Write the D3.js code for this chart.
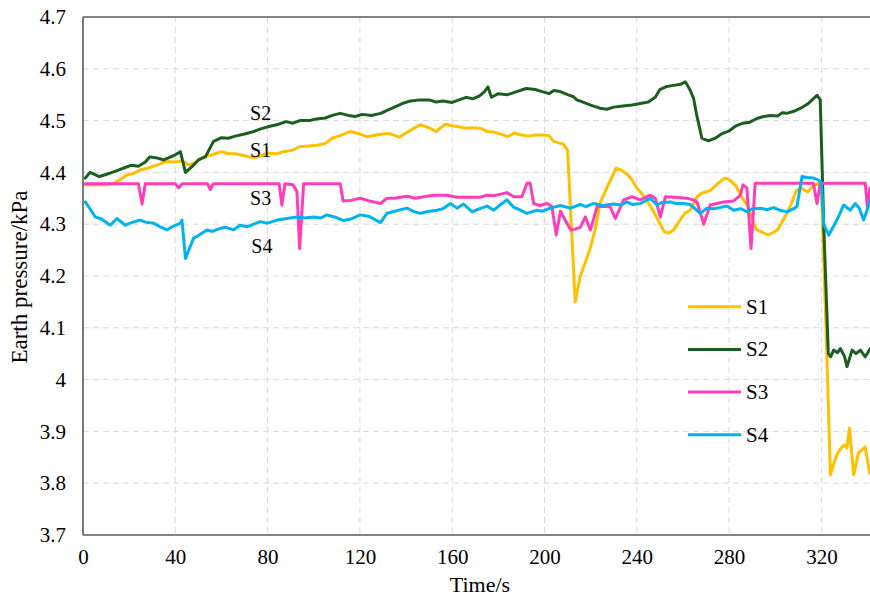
<!DOCTYPE html>
<html>
<head>
<meta charset="utf-8">
<script src="https://cdn.jsdelivr.net/npm/d3@7"></script>
<style>
  html, body { margin: 0; padding: 0; background: #fff; }
  svg { display: block; }
  text { font-family: "Liberation Serif", "Times New Roman", serif; fill: #000; }
</style>
</head>
<body>
<svg id="chart" width="870" height="597"></svg>
<script>
// ---------- data ----------
const xTicks = [0, 40, 80, 120, 160, 200, 240, 280, 320];
const yTicks = [3.7, 3.8, 3.9, 4.0, 4.1, 4.2, 4.3, 4.4, 4.5, 4.6, 4.7];
const yTickLabels = ["3.7", "3.8", "3.9", "4", "4.1", "4.2", "4.3", "4.4", "4.5", "4.6", "4.7"];
const seriesNames = ["S1", "S2", "S3", "S4"];
const seriesColors = ["#FFC000", "#1B5E20", "#FF3DBB", "#00B2EE"];

const s1T = [1,5,10,13,16,19,22,25,28,32,36,40,43,46,49,52,56,60,63,66,70,74,77,80,84,87,91,94,98,102,105,108,112,116,120,123,127,130,133,137,140,143,146,150,153,157,160,163,166,170,173,175,178,181,184,187,190,193,196,199,202,204,206,208,210,213.3,215.5,218,220,222,224,227,231,233,236,238,240,243,246,249,252,254,256,258,261,263,266,268,270,272,275,278,280,283,285,288,290,292,295,297,299,301,303,305,307,309,311,314,316,318.5,320,322,323.9,325.5,327,329,330,331,332.2,334,336,337.5,339,340.9];
const s1V = [4.376,4.376,4.376,4.378,4.386,4.395,4.398,4.405,4.408,4.414,4.421,4.42,4.422,4.414,4.42,4.43,4.434,4.44,4.436,4.436,4.432,4.428,4.432,4.437,4.436,4.44,4.443,4.45,4.451,4.453,4.456,4.466,4.472,4.479,4.474,4.469,4.472,4.474,4.475,4.468,4.476,4.484,4.492,4.486,4.479,4.493,4.49,4.488,4.485,4.486,4.484,4.479,4.478,4.474,4.469,4.476,4.472,4.47,4.472,4.472,4.471,4.46,4.457,4.455,4.443,4.15,4.2,4.23,4.257,4.29,4.34,4.37,4.408,4.405,4.396,4.385,4.37,4.355,4.334,4.31,4.285,4.283,4.289,4.303,4.322,4.326,4.352,4.36,4.362,4.366,4.378,4.389,4.386,4.374,4.355,4.336,4.31,4.289,4.283,4.279,4.284,4.289,4.305,4.32,4.34,4.364,4.37,4.362,4.372,4.379,4.37,4.1,3.816,3.84,3.858,3.87,3.874,3.868,3.906,3.816,3.858,3.864,3.87,3.819];

const s2T = [1,3,5,7,10,12,15,18,21,24,27,29,32,35,38,40,42.2,44.4,47,50,53,56.6,60,63,66,70,74,77,80,84,88,91,94,98,101,105,108,111.5,115,118,121,125,129,132,135,139,142,146,150,153,156,160,163,166,169,172,174,175.5,177,180,184,188,192,196,199,202,204,206.8,210,212.6,214,217,220,224,227,230,234,238,241.5,245,248,250,253,256,259,261,263,264.6,266,268.2,271,274,277,280,283,286,289,292,295,298,301,303,305,308,311,314,316,318.1,319.5,321,323,324,325.3,327,328.2,330,331.1,333.3,335,336.9,339,341.2];
const s2V = [4.389,4.40,4.396,4.392,4.396,4.399,4.404,4.409,4.414,4.412,4.42,4.43,4.428,4.424,4.43,4.434,4.44,4.40,4.41,4.424,4.43,4.46,4.467,4.466,4.47,4.474,4.479,4.484,4.488,4.492,4.498,4.495,4.5,4.5,4.503,4.505,4.51,4.514,4.51,4.508,4.512,4.51,4.514,4.52,4.526,4.534,4.538,4.54,4.54,4.536,4.538,4.535,4.54,4.545,4.542,4.548,4.556,4.565,4.545,4.552,4.55,4.556,4.562,4.56,4.556,4.552,4.558,4.556,4.55,4.546,4.54,4.535,4.53,4.524,4.522,4.526,4.528,4.53,4.533,4.536,4.545,4.56,4.566,4.568,4.57,4.575,4.56,4.543,4.51,4.466,4.461,4.466,4.475,4.48,4.49,4.495,4.497,4.504,4.508,4.51,4.509,4.515,4.514,4.518,4.524,4.532,4.54,4.549,4.54,4.3,4.05,4.044,4.057,4.052,4.06,4.045,4.025,4.057,4.05,4.057,4.044,4.06];

const s3T = [1,24,25.6,27,40,41.4,43,54,55.2,56.5,85,86.2,87.5,91,92.7,93.9,95.6,111.5,112.7,116,120.2,124,128.9,131.7,135,140.4,144,147.6,152,157.7,162,166.4,172.2,175,178,181,183.7,186.6,190.2,192.4,193.8,195.3,198,201.1,203.2,205.1,206.9,209.7,211.3,213,215.5,217.7,219.9,222.8,226,228.5,230.7,234.3,237.9,241.5,245.8,248,250.2,252.4,256,261.8,264.6,266.1,269,271.8,277.6,282,284.9,286,287.7,289.5,291.3,316.5,318.1,319.5,339,340,341];
const s3V = [4.378,4.378,4.339,4.378,4.378,4.37,4.378,4.378,4.367,4.378,4.378,4.337,4.378,4.376,4.363,4.253,4.378,4.378,4.345,4.346,4.35,4.345,4.34,4.35,4.35,4.354,4.35,4.353,4.356,4.356,4.352,4.352,4.352,4.356,4.355,4.358,4.361,4.353,4.353,4.379,4.379,4.34,4.336,4.34,4.334,4.279,4.325,4.302,4.289,4.29,4.294,4.314,4.289,4.334,4.334,4.333,4.311,4.347,4.353,4.347,4.356,4.35,4.314,4.353,4.352,4.35,4.347,4.343,4.3,4.337,4.343,4.345,4.356,4.376,4.37,4.253,4.379,4.379,4.34,4.379,4.379,4.33,4.37];

const s4T = [1,3,5.3,8,11.8,14.7,18.3,21,24.8,27,30.6,33,36.4,39,42.2,42.9,44.4,47.9,50,53.7,56,59.5,62,65.3,68,71.1,74,76.8,80,84.1,88.4,92.7,96,100,103,105.7,109,112.9,116,120.2,124,128.9,131.7,135,140.4,143,146.2,150,153.4,156,159.2,162.1,164.9,168.6,172,175.1,178,181,183.7,186.6,189,192.4,196.7,199,202.5,206.9,211.2,215.5,218,221.3,225,230,233,235.8,238,241.6,245.8,248.8,251,254.5,257,260.3,263.2,267.5,270.4,273.3,276,279.1,282,285,287.8,290,293.5,296.4,299.3,302,305.1,308,309.4,311.6,313.8,316.6,318.8,320,321,323.2,326,328,329.6,332.5,334.7,336.5,338.3,340,341.2];
const s4V = [4.343,4.33,4.314,4.31,4.298,4.311,4.298,4.303,4.308,4.304,4.302,4.296,4.289,4.296,4.302,4.308,4.234,4.273,4.278,4.289,4.286,4.292,4.294,4.289,4.298,4.295,4.3,4.305,4.302,4.308,4.311,4.314,4.312,4.314,4.312,4.318,4.314,4.307,4.31,4.318,4.315,4.303,4.321,4.325,4.331,4.325,4.321,4.325,4.327,4.33,4.34,4.331,4.339,4.324,4.33,4.335,4.327,4.338,4.347,4.333,4.328,4.321,4.327,4.325,4.331,4.336,4.331,4.338,4.334,4.34,4.336,4.339,4.337,4.343,4.338,4.34,4.35,4.337,4.342,4.343,4.34,4.34,4.338,4.321,4.331,4.33,4.332,4.335,4.327,4.33,4.324,4.33,4.331,4.328,4.332,4.327,4.324,4.33,4.334,4.392,4.39,4.389,4.385,4.38,4.3,4.279,4.302,4.32,4.337,4.327,4.34,4.33,4.308,4.33,4.347];

const seriesT = [s1T, s2T, s3T, s4T];
const seriesV = [s1V, s2V, s3V, s4V];

// annotation labels next to lines
const annotText = ["S2", "S1", "S3", "S4"];
const annotTime = [77, 77, 77, 77.5];
const annotValue = [4.5147, 4.4432, 4.3506, 4.2579];

// ---------- layout ----------
const svg = d3.select("#chart");
const pLeft = 83, pTop = 17, pBottom = 535;
const x = d3.scaleLinear().domain([0, 360]).range([pLeft, pLeft + 360 * 2.3075]);
const y = d3.scaleLinear().domain([3.7, 4.7]).range([pBottom, pTop]);
const pRight = x(360);

svg.append("defs").append("clipPath").attr("id", "plotclip")
  .append("rect").attr("x", pLeft).attr("y", pTop).attr("width", pRight - pLeft).attr("height", pBottom - pTop);

// grid
const grid = svg.append("g");
grid.selectAll("line.h").data(yTicks.filter(d => d > 3.71 && d < 4.69)).join("line")
  .attr("class", "h")
  .attr("x1", pLeft).attr("x2", pRight)
  .attr("y1", d => y(d)).attr("y2", d => y(d))
  .attr("stroke", "#d9d9d9").attr("stroke-width", 1).attr("stroke-dasharray", "6,4");
grid.selectAll("line.v").data(xTicks.filter(d => d > 0)).join("line")
  .attr("class", "v")
  .attr("x1", d => x(d)).attr("x2", d => x(d))
  .attr("y1", pTop).attr("y2", pBottom)
  .attr("stroke", "#d9d9d9").attr("stroke-width", 1).attr("stroke-dasharray", "6,4");

// axes
const xAxis = d3.axisBottom(x).tickValues(xTicks).tickSize(0).tickPadding(14).tickFormat(d3.format("d"));
const gx = svg.append("g").attr("transform", `translate(0,${pBottom})`).call(xAxis);
gx.select(".domain").remove();
gx.selectAll("text").style("font-size", "21px").style("font-family", "Liberation Serif").attr("fill", "#000");

const yAxis = d3.axisLeft(y).tickValues(yTicks).tickSize(0).tickPadding(17)
  .tickFormat((d, i) => yTickLabels[i]);
const gy = svg.append("g").attr("transform", `translate(${pLeft},0)`).call(yAxis);
gy.select(".domain").remove();
gy.selectAll("text").style("font-size", "21px").style("font-family", "Liberation Serif").attr("fill", "#000");

// frame lines
svg.append("line").attr("x1", pLeft).attr("x2", pRight).attr("y1", pBottom).attr("y2", pBottom)
  .attr("stroke", "#595959").attr("stroke-width", 1.6);
svg.append("line").attr("x1", pLeft).attr("x2", pRight).attr("y1", pTop).attr("y2", pTop)
  .attr("stroke", "#595959").attr("stroke-width", 1.6);
svg.append("line").attr("x1", pLeft).attr("x2", pLeft).attr("y1", pTop).attr("y2", pBottom)
  .attr("stroke", "#595959").attr("stroke-width", 1.6);

// series
const line = d3.line().x(d => x(d[0])).y(d => y(d[1])).curve(d3.curveLinear);
const lines = svg.append("g").attr("clip-path", "url(#plotclip)");
seriesNames.forEach((name, i) => {
  const pts = seriesT[i].map((t, j) => [t, seriesV[i][j]]);
  lines.append("path").datum(pts)
    .attr("d", line)
    .attr("fill", "none")
    .attr("stroke", seriesColors[i])
    .attr("stroke-width", 3)
    .attr("stroke-linejoin", "round")
    .attr("stroke-linecap", "round");
});

// annotations
svg.append("g").selectAll("text").data(annotText).join("text")
  .attr("x", (d, i) => x(annotTime[i]))
  .attr("y", (d, i) => y(annotValue[i]) + 7)
  .attr("text-anchor", "middle")
  .style("font-size", "20px")
  .text(d => d);

// legend
const legY0 = 306.7, legStep = 42.7;
const leg = svg.append("g");
seriesNames.forEach((name, i) => {
  const ly = legY0 + i * legStep;
  leg.append("line").attr("x1", 688).attr("x2", 741).attr("y1", ly).attr("y2", ly)
    .attr("stroke", seriesColors[i]).attr("stroke-width", 3);
  leg.append("text").attr("x", 746).attr("y", ly + 7)
    .style("font-size", "21px").text(name);
});

// axis titles
svg.append("text").attr("x", 480).attr("y", 585 + 7).attr("text-anchor", "middle")
  .style("font-size", "22px").text("Time/s");
svg.append("text").attr("transform", `translate(${20 + 7},277) rotate(-90)`)
  .attr("text-anchor", "middle")
  .style("font-size", "23px").text("Earth pressure/kPa");
</script>
</body>
</html>
